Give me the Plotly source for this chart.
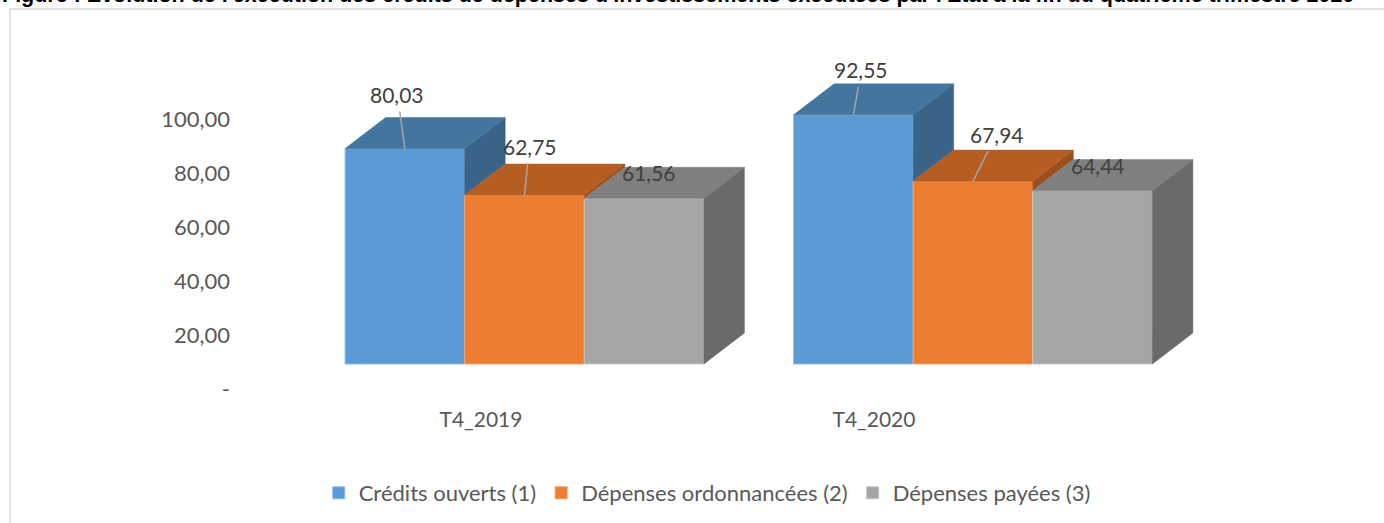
import plotly.graph_objects as go

# data
categories = ["T4_2019", "T4_2020"]
series_names = ["Crédits ouverts (1)", "Dépenses ordonnancées (2)", "Dépenses payées (3)"]
credits_ouverts = [80.03, 92.55]
depenses_ordonnancees = [62.75, 67.94]
depenses_payees = [61.56, 64.44]
y_ticks = [0, 20, 40, 60, 80, 100]
title_text = ("Figure : Evolution de l'exécution des crédits de dépenses d'investissements "
              "exécutées par l'Etat à la fin du quatrième trimestre 2020")

series = [credits_ouverts, depenses_ordonnancees, depenses_payees]

# styles
front_colors = ["#5B9BD5", "#ED7D31", "#A5A5A5"]
edge_colors = ["#8DB8E3", "#F2A26B", "#C4C4C4"]
top_colors = ["#44759F", "#B55D23", "#7F7F7F"]
side_colors = ["#3A6388", "#9A4F1D", "#6A6A6A"]
font_family = "Lato, 'Open Sans', sans-serif"
text_grey = "#595959"

# label offsets (pixels) per series / category, and whether a leader line is drawn
label_dx = [[-7.5, 8], [5, 23.5], [5, 5]]
label_dy = [[-54, -45], [-49, -47], [-26, -25]]
label_leader = [[True, True], [True, True], [False, False]]

W, H = 1384, 523
# front projection of the bars
px_per_cat, x0_px = 448.5, 524.5
px_per_unit, y0_px = 2.692, 364
# back wall (axis labels)
lab_px_per_cat, lab_x0_px = 393, 481
lab_px_per_unit, lab_y0_px = 2.7, 389

bargap = 0.2
bar_w = (1 - bargap) / len(series)
depth_x = 40.5 / px_per_cat
depth_y = 31 / px_per_unit

fig = go.Figure()
xs = list(range(len(categories)))

# front faces
for j, vals in enumerate(series):
    fig.add_trace(go.Bar(
        x=xs, y=vals, name=series_names[j], offsetgroup=str(j),
        marker=dict(color=front_colors[j], line=dict(color=edge_colors[j], width=1)),
        hoverinfo="skip",
    ))

# top and side faces
for i in xs:
    for j, vals in enumerate(series):
        v = vals[i]
        cx = i + (j - (len(series) - 1) / 2) * bar_w
        left, right = cx - bar_w / 2, cx + bar_w / 2
        if j < len(series) - 1:
            lower = series[j + 1][i]
        else:
            lower = 0
        if lower < v:
            fig.add_trace(go.Scatter(
                x=[right, right + depth_x, right + depth_x, right, right],
                y=[lower, lower + depth_y, v + depth_y, v, lower],
                fill="toself", fillcolor=side_colors[j], mode="lines",
                line=dict(color=side_colors[j], width=0.5),
                showlegend=False, hoverinfo="skip"))
        fig.add_trace(go.Scatter(
            x=[left, right, right + depth_x, left + depth_x, left],
            y=[v, v, v + depth_y, v + depth_y, v],
            fill="toself", fillcolor=top_colors[j], mode="lines",
            line=dict(color=top_colors[j], width=0.5),
            showlegend=False, hoverinfo="skip"))

# carrier for the label axes
fig.add_trace(go.Scatter(x=categories, y=[0, 0], xaxis="x2", yaxis="y2", mode="markers",
                         marker=dict(opacity=0), showlegend=False, hoverinfo="skip"))

# data labels
for j, vals in enumerate(series):
    for i in xs:
        v = vals[i]
        cx = i + (j - (len(series) - 1) / 2) * bar_w
        txt = f"{v:.2f}".replace(".", ",")
        if label_leader[j][i]:
            fig.add_annotation(x=cx, y=v, xref="x", yref="y", text=txt, showarrow=True,
                               ax=label_dx[j][i], ay=label_dy[j][i], arrowhead=0,
                               arrowwidth=1.5, arrowcolor="#A6A6A6", borderpad=4, standoff=0,
                               font=dict(family=font_family, size=21, color="#404040"))
        else:
            fig.add_annotation(x=cx, y=v, xref="x", yref="y", text=txt, showarrow=False,
                               xshift=label_dx[j][i], yshift=-label_dy[j][i],
                               font=dict(family=font_family, size=21, color="#404040"))

# title, partly cut off at the top as in the source
fig.add_annotation(x=0, y=1, xref="paper", yref="paper", xanchor="left", yanchor="middle",
                   yshift=5, text="<b>" + title_text + "</b>", showarrow=False,
                   font=dict(family="Liberation Sans, Arial", size=21.5, color="black"))

# chart frame
fig.add_shape(type="rect", xref="paper", yref="paper",
              x0=10 / W, x1=1.01, y0=-0.01, y1=(H - 9) / H,
              line=dict(color="#D9D9D9", width=1.5), fillcolor="rgba(0,0,0,0)")

fig.update_layout(
    template="none",
    width=W, height=H,
    margin=dict(l=0, r=0, t=0, b=0),
    paper_bgcolor="white", plot_bgcolor="white",
    barmode="group", bargap=bargap, bargroupgap=0,
    showlegend=True,
    legend=dict(orientation="h", x=0.511, xanchor="center", y=(H - 493) / H, yanchor="middle",
                font=dict(family=font_family, size=22, color=text_grey),
                bgcolor="rgba(0,0,0,0)", traceorder="normal"),
    xaxis=dict(range=[-x0_px / px_per_cat, (W - x0_px) / px_per_cat], visible=False,
               automargin=False),
    yaxis=dict(range=[-(H - y0_px) / px_per_unit, y0_px / px_per_unit], visible=False,
               automargin=False),
    xaxis2=dict(overlaying="x", type="category", categoryarray=categories,
                range=[-lab_x0_px / lab_px_per_cat, (W - lab_x0_px) / lab_px_per_cat],
                anchor="free", position=(H - 405) / H, side="bottom",
                showgrid=False, zeroline=False, showline=False, ticks="",
                tickfont=dict(family=font_family, size=21, color=text_grey), automargin=False),
    yaxis2=dict(overlaying="y", anchor="free", position=230 / W, side="left",
                range=[-(H - lab_y0_px) / lab_px_per_unit, lab_y0_px / lab_px_per_unit],
                tickvals=y_ticks,
                ticktext=["-" if t == 0 else f"{t:.2f}".replace(".", ",") for t in y_ticks],
                showgrid=False, zeroline=False, showline=False, ticks="",
                tickfont=dict(family=font_family, size=22, color=text_grey), automargin=False),
)

fig.write_html("out.html", config={"displayModeBar": False},
               post_script="document.body.style.margin = '0';")
